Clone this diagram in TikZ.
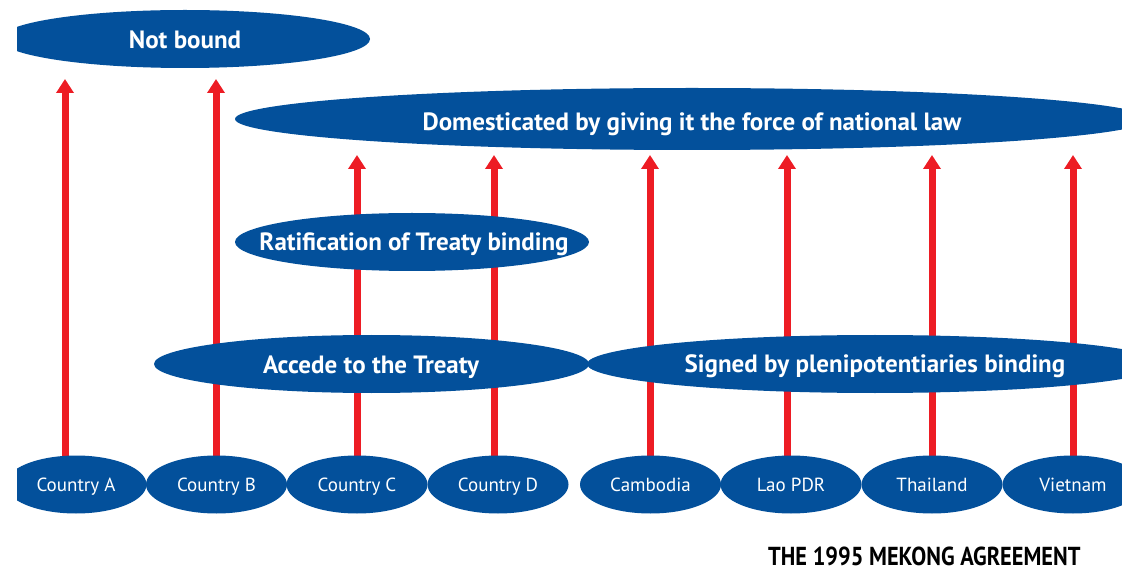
\documentclass[tikz,border=0pt]{standalone}
\usepackage{fontspec}
\setmainfont{PT Sans}
\newfontfamily\titlefont[FakeStretch=0.86]{PT Sans}
\usetikzlibrary{shapes.geometric, arrows.meta, backgrounds}
\definecolor{mkblue}{RGB}{3,80,155}
\definecolor{mkred}{RGB}{237,28,36}
\tikzset{
  blob/.style={ellipse, fill=mkblue, inner sep=0pt, minimum height=58pt},
  stage/.style={text=white, inner sep=0pt, text height=17.5pt, text depth=0pt,
    font=\bfseries\fontsize{25}{25}\selectfont},
  country/.style={blob, minimum width=141pt, text=white, text height=13.3pt, text depth=0pt,
    font=\fontsize{19}{19}\selectfont},
  up/.style={draw=mkred, line width=7pt, -{Triangle[width=17pt,length=14pt]}}
}
\begin{document}
\begin{tikzpicture}[x=1pt, y=-1pt]
\useasboundingbox (0,0) rectangle (1122,569);

\begin{scope}
  \clip (17,0) rectangle (1122,569);
  % outcome levels
  \node[blob, minimum width=370pt] (notb) at (185,39) {};
  \node[blob, minimum width=914pt, minimum height=62pt] (dom) at (692,119) {};
  \node[blob, minimum width=354pt] (rat)  at (412,242) {};
  \node[blob, minimum width=435pt] (acc)  at (371.5,364) {};
  \node[blob, minimum width=576pt] (sig)  at (875,364) {};
  % states
  \node[country] (cA)   at (76,484.5)    {Country A};
  \node[country] (cB)   at (216.5,484.5) {Country B};
  \node[country] (cC)   at (357,484.5)   {Country C};
  \node[country] (cD)   at (498,484.5)   {Country D};
  \node[country] (cKH)  at (650.5,484.5) {Cambodia};
  \node[country] (cLA)  at (791,484.5)   {Lao PDR};
  \node[country] (cTH)  at (932,484.5)   {Thailand};
  \node[country] (cVN)  at (1073,484.5)  {Vietnam};
\end{scope}

\node[stage] (notbT) at (185,40)    {Not bound};
\node[stage] (domT)  at (692,122)   {Domesticated by giving it the force of national law};
\node[stage] (ratT)  at (414,241.5) {Ratification of Treaty binding};
\node[stage] (accT)  at (371,365)   {Accede to the Treaty};
\node[stage] (sigT)  at (875,364)   {Signed by plenipotentiaries binding};

% arrow tips
\coordinate (tA)  at (65,79);
\coordinate (tB)  at (216,79);
\coordinate (tC)  at (357,155);
\coordinate (tD)  at (494,155);
\coordinate (tKH) at (650,155);
\coordinate (tLA) at (787,155);
\coordinate (tTH) at (932,155);
\coordinate (tVN) at (1073,155);

\begin{pgfonlayer}{background}
  \draw[up] (cA.center  -| tA)  -- (tA);
  \draw[up] (cB.center  -| tB)  -- (tB);
  \draw[up] (cC.center  -| tC)  -- (tC);
  \draw[up] (cD.center  -| tD)  -- (tD);
  \draw[up] (cKH.center -| tKH) -- (tKH);
  \draw[up] (cLA.center -| tLA) -- (tLA);
  \draw[up] (cTH.center -| tTH) -- (tTH);
  \draw[up] (cVN.center -| tVN) -- (tVN);
\end{pgfonlayer}

\node[anchor=base west, inner sep=0pt, text depth=0pt,
  font=\titlefont\bfseries\fontsize{26}{26}\selectfont] (title) at (768,565) {THE 1995 MEKONG AGREEMENT};
\end{tikzpicture}
\end{document}
